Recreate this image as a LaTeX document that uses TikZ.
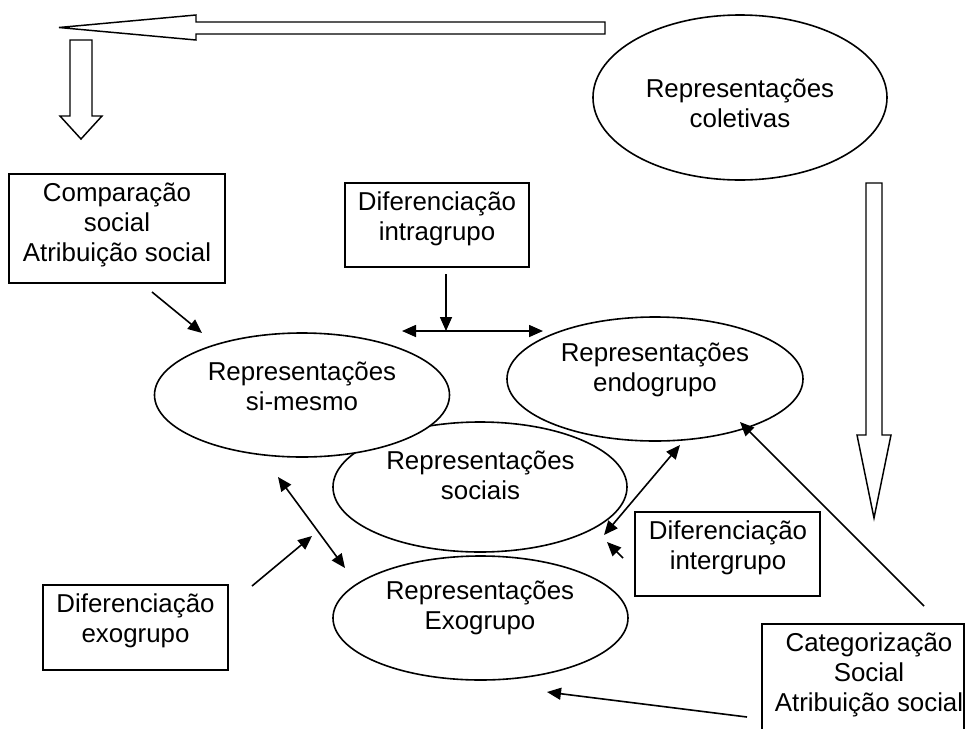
\documentclass[tikz,border=0pt]{standalone}
\usepackage{fontspec}
\setmainfont{Liberation Sans}
\usetikzlibrary{arrows.meta,shapes.geometric}
\begin{document}
\begin{tikzpicture}[x=0.75pt,y=-0.75pt,line width=1.2pt,
  ell/.style={draw,ellipse,fill=white,inner sep=0pt},
  box/.style={draw,rectangle,fill=white,inner sep=0pt},
  txt/.style={align=center,font=\fontsize{19.4pt}{22.5pt}\selectfont,inner sep=0pt},
  conn/.style={-{Triangle[length=10.5pt,width=9pt]}},
  dconn/.style={{Triangle[length=10.5pt,width=9pt]}-{Triangle[length=10.5pt,width=9pt]}},
  hollow/.style={draw,fill=white,line width=1.1pt}]
\useasboundingbox (0,0) rectangle (965,729);

% hollow block arrows
\draw[hollow] (605,22) -- (196,22) -- (196,15) -- (59,27.5) -- (196,40) -- (196,34) -- (605,34) -- cycle;
\draw[hollow] (70,40) -- (92,40) -- (92,116) -- (102,116) -- (81,139) -- (60,116) -- (70,116) -- cycle;
\draw[hollow] (866,183) -- (882,183) -- (882,435) -- (891,435) -- (874,518) -- (857,435) -- (866,435) -- cycle;

% ellipses
\node[ell,minimum width=220.5pt,minimum height=123.75pt] (coletivas) at (740,97.5) {};
\node[ell,minimum width=220.5pt,minimum height=97.5pt] (sociais) at (480,487) {};
\node[ell,minimum width=221.25pt,minimum height=93pt] (simesmo) at (302,395) {};
\node[ell,minimum width=222pt,minimum height=93pt] (endo) at (655,379) {};
\node[ell,minimum width=221.25pt,minimum height=93pt] (exo) at (480.5,618) {};

% boxes
\node[box,minimum width=162pt,minimum height=81.75pt] (comp) at (117,228.5) {};
\node[box,minimum width=138pt,minimum height=63pt] (intra) at (437,225) {};
\node[box,minimum width=138.75pt,minimum height=63pt] (inter) at (727.5,554) {};
\node[box,minimum width=138.75pt,minimum height=63.75pt] (exobox) at (135.5,627.5) {};
\node[box,minimum width=151.5pt,minimum height=87pt] (categ) at (863,682) {};

% texts
\node[txt] (coletivas-t) at (740,103) {Representações\\coletivas};
\node[txt] (sociais-t) at (480.5,475) {Representações\\sociais};
\node[txt] (simesmo-t) at (302,386) {Representações\\si-mesmo};
\node[txt] (endo-t) at (655,369.5) {Representações\\endogrupo};
\node[txt] (exo-t) at (480,608) {Representações\\Exogrupo};
\node[txt] (comp-t) at (117,225) {Comparação\\social\\Atribuição social};
\node[txt] (intra-t) at (437,219) {Diferenciação\\intragrupo};
\node[txt] (inter-t) at (728,548) {Diferenciação\\intergrupo};
\node[txt] (exobox-t) at (135.5,621) {Diferenciação\\exogrupo};
\node[txt] (categ-t) at (869,675) {Categorização\\Social\\Atribuição social};

% connector end points
\coordinate (a1) at (152,292); \coordinate (a2) at (202,333);
\coordinate (b1) at (446,274); \coordinate (b2) at (446,331);
\coordinate (h1) at (402,331); \coordinate (h2) at (543,331);
\coordinate (d1) at (278,477); \coordinate (d2) at (345,568);
\coordinate (e1) at (252,586); \coordinate (e2) at (312,536);
\coordinate (i1) at (680,445); \coordinate (i2) at (604,535);
\coordinate (j1) at (623,558); \coordinate (j2) at (607,542);
\coordinate (k1) at (924,606); \coordinate (k2) at (740,422);
\coordinate (m1) at (747,717); \coordinate (m2) at (547,692);

\draw[conn] (a1) -- (a2);
\draw[conn] (b1) -- (b2);
\draw[dconn] (h1) -- (h2);
\draw[dconn] (d1) -- (d2);
\draw[conn] (e1) -- (e2);
\draw[dconn] (i1) -- (i2);
\draw[conn] (j1) -- (j2);
\draw[conn] (k1) -- (k2);
\draw[conn] (m1) -- (m2);
\end{tikzpicture}
\end{document}
